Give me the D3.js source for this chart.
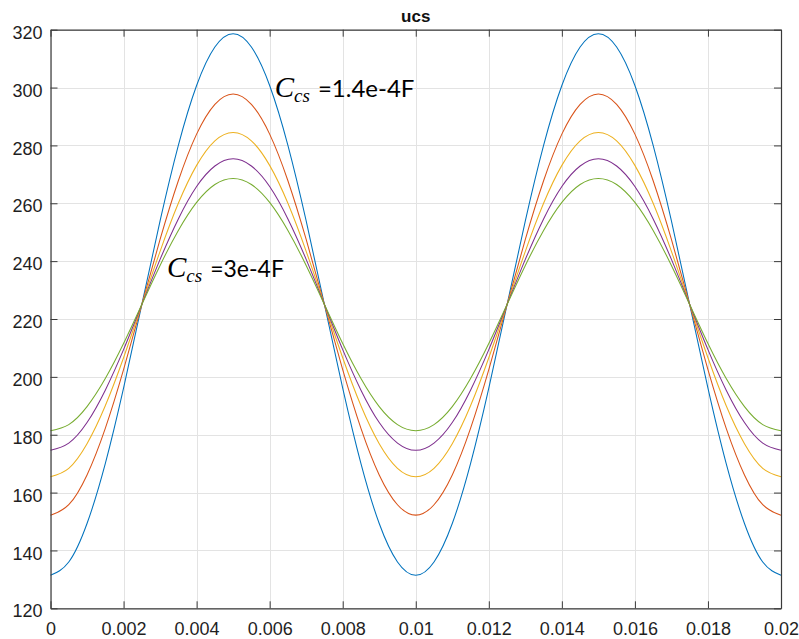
<!DOCTYPE html>
<html>
<head>
<meta charset="utf-8">
<script src="https://cdn.jsdelivr.net/npm/d3@7"></script>
<style>
  html, body { margin: 0; padding: 0; background: #ffffff; }
  svg { display: block; }
</style>
</head>
<body>
<svg id="chart" width="799" height="639"></svg>
<script>
// Sample times (s), one every 0.5 ms over two periods
const time = d3.range(41).map(i => +(i * 0.0005).toFixed(4));

// Capacitor voltage ucs (V) for each Ccs value, largest swing first
const ucs1 = [131.4,136.0,149.3,170.0,196.1,225.0,253.9,280.0,300.7,314.0,318.6,314.0,300.7,280.0,253.9,225.0,196.1,170.0,149.3,136.0,
              131.4,136.0,149.3,170.0,196.1,225.0,253.9,280.0,300.7,314.0,318.6,314.0,300.7,280.0,253.9,225.0,196.1,170.0,149.3,136.0,131.4];
const ucs2 = [152.2,155.8,166.1,182.2,202.5,225.0,247.5,267.8,283.9,294.2,297.8,294.2,283.9,267.8,247.5,225.0,202.5,182.2,166.1,155.8,
              152.2,155.8,166.1,182.2,202.5,225.0,247.5,267.8,283.9,294.2,297.8,294.2,283.9,267.8,247.5,225.0,202.5,182.2,166.1,155.8,152.2];
const ucs3 = [165.5,168.4,176.9,190.0,206.6,225.0,243.4,260.0,273.1,281.6,284.5,281.6,273.1,260.0,243.4,225.0,206.6,190.0,176.9,168.4,
              165.5,168.4,176.9,190.0,206.6,225.0,243.4,260.0,273.1,281.6,284.5,281.6,273.1,260.0,243.4,225.0,206.6,190.0,176.9,168.4,165.5];
const ucs4 = [174.6,177.1,184.2,195.4,209.4,225.0,240.6,254.6,265.8,272.9,275.4,272.9,265.8,254.6,240.6,225.0,209.4,195.4,184.2,177.1,
              174.6,177.1,184.2,195.4,209.4,225.0,240.6,254.6,265.8,272.9,275.4,272.9,265.8,254.6,240.6,225.0,209.4,195.4,184.2,177.1,174.6];
const ucs5 = [181.4,183.5,189.7,199.4,211.5,225.0,238.5,250.6,260.3,266.5,268.6,266.5,260.3,250.6,238.5,225.0,211.5,199.4,189.7,183.5,
              181.4,183.5,189.7,199.4,211.5,225.0,238.5,250.6,260.3,266.5,268.6,266.5,260.3,250.6,238.5,225.0,211.5,199.4,189.7,183.5,181.4];

const seriesList = [ucs1, ucs2, ucs3, ucs4, ucs5];
const seriesColors = ["#0072BD", "#D95319", "#EDB120", "#7E2F8E", "#77AC30"];

// Axis ticks
const xTicks = [0, 0.002, 0.004, 0.006, 0.008, 0.01, 0.012, 0.014, 0.016, 0.018, 0.02];
const xTickLabels = ["0", "0.002", "0.004", "0.006", "0.008", "0.01", "0.012", "0.014", "0.016", "0.018", "0.02"];
const yTicks = [120, 140, 160, 180, 200, 220, 240, 260, 280, 300, 320];

const titleText = "ucs";

const svg = d3.select("#chart");
const plotLeft = 50.5, plotRight = 781, plotTop = 29.7, plotBottom = 608.3;

const x = d3.scaleLinear().domain([0, 0.02]).range([plotLeft, plotRight]);
const y = d3.scaleLinear().domain([120, 320]).range([plotBottom, plotTop]);

const axisFont = "'Liberation Sans', Arial, Helvetica, sans-serif";

// Grid
const grid = svg.append("g");
grid.selectAll("line.vx").data(xTicks).join("line")
  .attr("x1", d => Math.round(x(d)) + 0.5).attr("x2", d => Math.round(x(d)) + 0.5)
  .attr("y1", plotTop).attr("y2", plotBottom)
  .attr("stroke", "#e3e3e3").attr("stroke-width", 1);
grid.selectAll("line.hy").data(yTicks).join("line")
  .attr("y1", d => Math.round(y(d)) + 0.5).attr("y2", d => Math.round(y(d)) + 0.5)
  .attr("x1", plotLeft).attr("x2", plotRight)
  .attr("stroke", "#e3e3e3").attr("stroke-width", 1);

// Curves
const line = d3.line()
  .x((d, i) => x(time[i]))
  .y(d => y(d))
  .curve(d3.curveNatural);

svg.append("g").selectAll("path").data(seriesList).join("path")
  .attr("d", d => line(d))
  .attr("fill", "none")
  .attr("stroke", (d, i) => seriesColors[i])
  .attr("stroke-width", 1.05);

// Axes (boxed, ticks pointing inward)
const tickLen = 7;
const axisColor = "#3a3a3a";

const gBottom = svg.append("g").attr("transform", `translate(0,${plotBottom})`)
  .call(d3.axisBottom(x).tickValues(xTicks).tickFormat((d, i) => xTickLabels[i])
    .tickSizeInner(-tickLen).tickSizeOuter(0).tickPadding(14));
const gTop = svg.append("g").attr("transform", `translate(0,${plotTop})`)
  .call(d3.axisTop(x).tickValues(xTicks).tickFormat("")
    .tickSizeInner(-tickLen).tickSizeOuter(0));
const gLeft = svg.append("g").attr("transform", `translate(${plotLeft},0)`)
  .call(d3.axisLeft(y).tickValues(yTicks)
    .tickSizeInner(-tickLen).tickSizeOuter(0).tickPadding(8));
const gRight = svg.append("g").attr("transform", `translate(${plotRight},0)`)
  .call(d3.axisRight(y).tickValues(yTicks).tickFormat("")
    .tickSizeInner(-tickLen).tickSizeOuter(0));

[gBottom, gTop, gLeft, gRight].forEach(g => {
  g.select(".domain").attr("stroke", axisColor).attr("stroke-width", 1.2);
  g.selectAll(".tick line").attr("stroke", axisColor).attr("stroke-width", 1);
  g.selectAll(".tick text")
    .attr("fill", "#1f1f1f")
    .style("font-family", axisFont)
    .style("font-size", "18px");
});
gLeft.selectAll(".tick text").attr("dy", "0.48em");

// Title
svg.append("text")
  .attr("x", (plotLeft + plotRight) / 2).attr("y", 22)
  .attr("text-anchor", "middle")
  .style("font-family", axisFont)
  .style("font-size", "17px")
  .style("font-weight", "bold")
  .attr("fill", "#111")
  .text(titleText);

// Capacitance annotations: italic C with subscript cs, then value
function annotate(px, py, value, size) {
  const t = svg.append("text").attr("x", px).attr("y", py).attr("fill", "#000");
  t.append("tspan")
    .style("font-family", "'Liberation Serif', 'DejaVu Serif', serif")
    .style("font-style", "italic")
    .style("font-size", "29px")
    .text("C");
  t.append("tspan")
    .attr("dy", 5)
    .style("font-family", "'Liberation Serif', 'DejaVu Serif', serif")
    .style("font-style", "italic")
    .style("font-size", "19px")
    .text("cs");
  t.append("tspan")
    .attr("dy", -5).attr("dx", 8)
    .style("font-family", "Lato, 'Open Sans', sans-serif")
    .style("font-size", size + "px")
    .text(value);
}
annotate(x(0.00614), y(296.6), "=1.4e-4F", 24);
annotate(x(0.00319), y(234.4), "=3e-4F", 23);
</script>
</body>
</html>
